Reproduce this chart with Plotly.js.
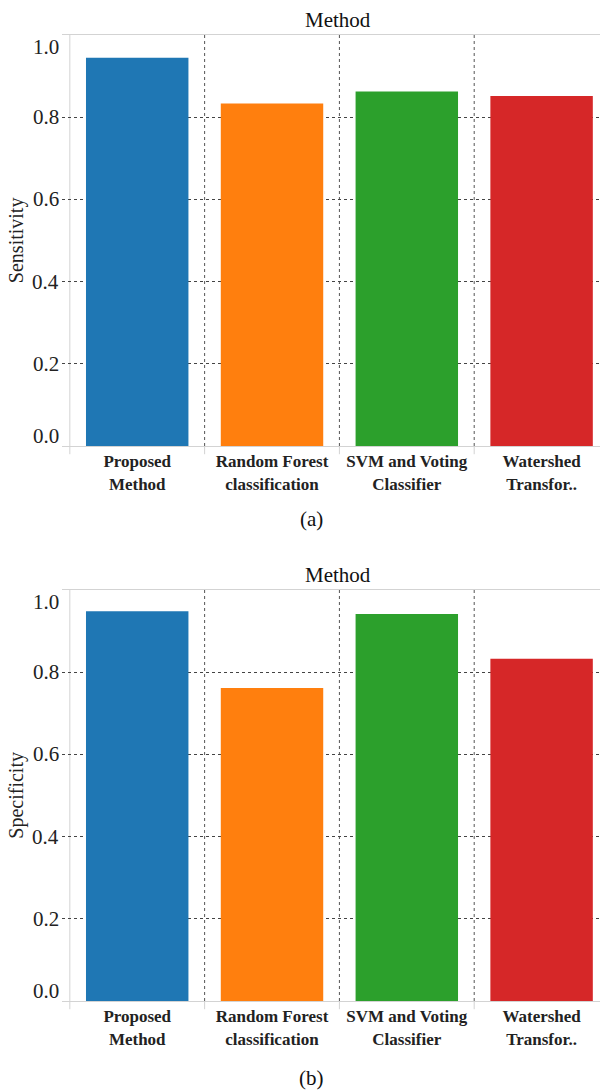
<!DOCTYPE html>
<html>
<head>
<meta charset="utf-8">
<script src="https://cdn.plot.ly/plotly-3.0.1.min.js"></script>
<style>
html,body{margin:0;padding:0;overflow:hidden;background:#fff;}
#chart{width:615px;height:1091px;}
</style>
</head>
<body>
<div id="chart"></div>
<script>
const categories = ['Proposed Method', 'Random Forest classification', 'SVM and Voting Classifier', 'Watershed Transfor..'];
const categoryLabels = ['<b>Proposed<br>Method</b>', '<b>Random Forest<br>classification</b>', '<b>SVM and Voting<br>Classifier</b>', '<b>Watershed<br>Transfor..</b>'];
const sensitivity = [0.944, 0.833, 0.862, 0.851];
const specificity = [0.948, 0.761, 0.941, 0.832];
const barColors = ['#1f77b4', '#ff7f0e', '#2ca02c', '#d62728'];
const yTickValues = [0, 0.2, 0.4, 0.6, 0.8, 1.0];
const yTickLabels = ['0.0', '0.2', '0.4', '0.6', '0.8', '1.0'];
const panelTitle = 'Method';
const panelYTitles = ['Sensitivity', 'Specificity'];
const panelCaptions = ['(a)', '(b)'];

const W = 615, H = 1091, L = 62, R = 6;
const plotW = W - L - R;
const py = p => 1 - p / H;
const px = p => (p - L) / plotW;
const FONT = 'Liberation Serif, Times New Roman, serif';

const panels = [
  {vals: sensitivity, top: 34.75, bottom: 446, titleY: 20, capY: 519},
  {vals: specificity, top: 589.75, bottom: 1001, titleY: 575, capY: 1078}
];

const data = [];
const shapes = [];
const annotations = [];
const layout = {
  width: W, height: H,
  margin: {l: L, r: R, t: 0, b: 0},
  paper_bgcolor: '#fff', plot_bgcolor: '#fff',
  showlegend: false,
  font: {family: FONT, color: '#222'},
  bargap: 0.24
};

panels.forEach((p, i) => {
  const n = i === 0 ? '' : String(i + 1);
  const xa = 'x' + n, ya = 'y' + n;
  data.push({
    type: 'bar', x: categories, y: p.vals,
    xaxis: xa, yaxis: ya,
    width: 0.76,
    marker: {color: barColors, line: {width: 0}},
    hoverinfo: 'x+y'
  });
  layout['xaxis' + n] = {
    type: 'category', anchor: ya, domain: [0, 1],
    range: [-0.558, 3.5],
    showline: true, mirror: true, linecolor: '#d3d3d3', linewidth: 1,
    ticks: '', showgrid: false, zeroline: false,
    tickmode: 'array', tickvals: categories, ticktext: categoryLabels,
    tickfont: {family: FONT, size: 17, color: '#222'},
    fixedrange: true
  };
  layout['yaxis' + n] = {
    anchor: xa, domain: [py(p.bottom), py(p.top)],
    range: [0, 1],
    tickmode: 'array', tickvals: yTickValues.slice(1, 5),
    showticklabels: false, ticks: '',
    showgrid: true, griddash: 'dot', gridcolor: '#444', gridwidth: 1,
    zeroline: false, showline: false,
    title: {text: panelYTitles[i], font: {family: FONT, size: 20, color: '#222'}, standoff: 32},
    fixedrange: true
  };
  // y axis line and category separators
  shapes.push({type: 'line', xref: xa, yref: ya + ' domain', x0: -0.5, x1: -0.5, y0: -0.02, y1: 1,
    line: {color: '#d3d3d3', width: 1}, layer: 'below'});
  [0.5, 1.5, 2.5].forEach(k => {
    shapes.push({type: 'line', xref: xa, yref: ya + ' domain', x0: k, x1: k, y0: 0, y1: 1,
      line: {color: '#555', width: 1, dash: 'dot'}, layer: 'below'});
    shapes.push({type: 'line', xref: xa, yref: ya + ' domain', x0: k, x1: k, y0: -0.02, y1: 0,
      line: {color: '#d3d3d3', width: 1}, layer: 'below'});
  });
  // y tick labels
  yTickValues.forEach((v, j) => {
    let shift = 0;
    if (j === 0) shift = 10.5;
    if (j === yTickValues.length - 1) shift = -12;
    annotations.push({xref: 'paper', yref: ya, x: 0, y: v, xanchor: 'right', yanchor: 'middle',
      xshift: -1, yshift: shift, showarrow: false, text: yTickLabels[j],
      font: {family: FONT, size: 21, color: '#222'}});
  });
  annotations.push({xref: 'paper', yref: 'paper', x: px(338), y: py(p.titleY), xanchor: 'center', yanchor: 'middle',
    showarrow: false, text: panelTitle, font: {family: FONT, size: 21, color: '#111'}});
  annotations.push({xref: 'paper', yref: 'paper', x: px(311), y: py(p.capY), xanchor: 'center', yanchor: 'middle',
    showarrow: false, text: panelCaptions[i], font: {family: FONT, size: 21, color: '#111'}});
});

layout.shapes = shapes;
layout.annotations = annotations;

Plotly.newPlot('chart', data, layout, {displayModeBar: false, staticPlot: true});
</script>
</body>
</html>
